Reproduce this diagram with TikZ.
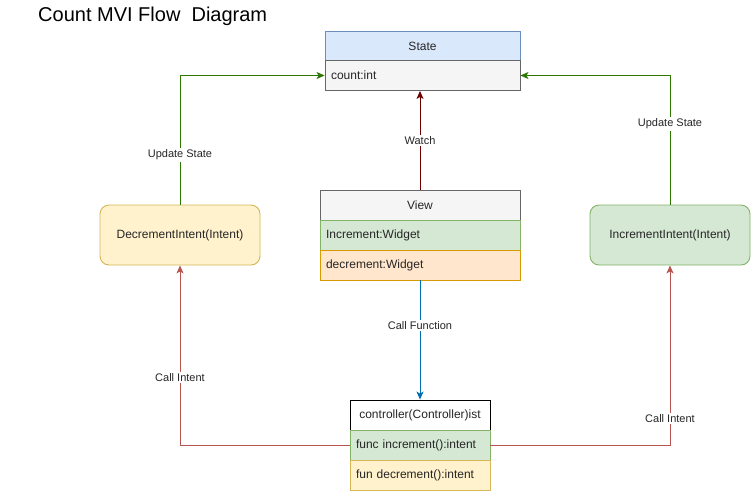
\documentclass[tikz,border=0pt]{standalone}
\usepackage{fontspec}
\setmainfont{Liberation Sans}
\usetikzlibrary{arrows.meta,positioning}
\definecolor{blueF}{HTML}{DAE8FC}\definecolor{blueS}{HTML}{6C8EBF}
\definecolor{grayF}{HTML}{F5F5F5}\definecolor{grayS}{HTML}{666666}
\definecolor{greenF}{HTML}{D5E8D4}\definecolor{greenS}{HTML}{82B366}
\definecolor{orangeF}{HTML}{FFE6CC}\definecolor{orangeS}{HTML}{D79B00}
\definecolor{yellowF}{HTML}{FFF2CC}\definecolor{yellowS}{HTML}{D6B656}
\definecolor{watchC}{HTML}{6F0000}\definecolor{updC}{HTML}{2D7600}
\definecolor{callfC}{HTML}{006EAF}\definecolor{calliC}{HTML}{B85450}
\tikzset{
  base/.style={draw, line width=0.9pt, inner sep=0pt, font=\fontsize{12}{14}\selectfont, text=black!85},
  hdr/.style={base, minimum height=30pt, align=center},
  row/.style={base, minimum height=30pt, text width=#1, align=left, inner xsep=6pt},
  intent/.style={base, rounded corners=9pt, minimum width=160pt, minimum height=60pt},
  conn/.style={line width=0.9pt, -{Stealth[length=8pt,width=7pt,inset=2pt]}},
  lbl/.style={fill=white, inner sep=1.5pt, font=\fontsize{11}{13}\selectfont, text=black!85},
}
\begin{document}
\begin{tikzpicture}[x=1pt,y=-1pt]
\useasboundingbox (0,0) rectangle (751,491);
\node[anchor=west, font=\fontsize{20}{24}\selectfont, inner sep=0pt] (title) at (38,16) {Count MVI Flow\ \ Diagram};
% State
\node[hdr, fill=blueF, draw=blueS, minimum width=195pt] (state) at (422.5,46) {State};
\node[row=183pt, fill=grayF, draw=grayS] (count) at (422.5,75.5) {count:int};
% View
\node[hdr, fill=grayF, draw=grayS, minimum width=200pt] (view) at (420,205) {View};
\node[row=188pt, fill=greenF, draw=greenS] (inc) at (420,235) {Increment:Widget};
\node[row=188pt, fill=orangeF, draw=orangeS] (dec) at (420,265) {decrement:Widget};
% controller
\node[hdr, fill=white, draw=black, minimum width=140pt] (ctrl) at (420,415) {controller(Controller)ist};
\node[row=128pt, fill=greenF, draw=greenS] (finc) at (420,445) {func increment():intent};
\node[row=128pt, fill=yellowF, draw=yellowS] (fdec) at (420,475) {fun decrement():intent};
% intents
\node[intent, fill=yellowF, draw=yellowS] (decI) at (180,235) {DecrementIntent(Intent)};
\node[intent, fill=greenF, draw=greenS] (incI) at (670,235) {IncrementIntent(Intent)};
% connectors
\draw[conn, watchC] (view.north) -- node[lbl, pos=0.5] {Watch} (view.north |- count.south);
\draw[conn, updC] (decI.north) -- node[lbl, pos=0.385] {Update State} (decI.north |- count.west) -- (count.west);
\draw[conn, updC] (incI.north) -- node[lbl, pos=0.625] {Update State} (incI.north |- count.east) -- (count.east);
\draw[conn, callfC] (dec.south) -- node[lbl, pos=0.375] {Call Function} (ctrl.north);
\draw[conn, calliC] (finc.west) -- (finc.west -| decI.south) -- node[lbl, pos=0.375] {Call Intent} (decI.south);
\draw[conn, calliC] (finc.east) -- (finc.east -| incI.south) -- node[lbl, pos=0.15] {Call Intent} (incI.south);
\end{tikzpicture}
\end{document}
